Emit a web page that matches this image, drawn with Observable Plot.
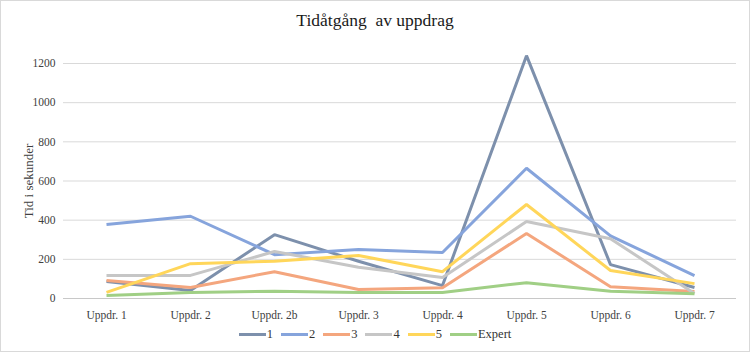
<!DOCTYPE html>
<html>
<head>
<meta charset="utf-8">
<script src="https://cdn.jsdelivr.net/npm/d3@7"></script>
<script src="https://cdn.jsdelivr.net/npm/@observablehq/plot@0.6"></script>
<style>
  html, body { margin: 0; padding: 0; background: #fff; }
  #chart { position: relative; width: 750px; height: 352px; outline: 1px solid #d9d9d9; outline-offset: -1px; font-family: "Liberation Serif", "Times New Roman", serif; overflow: hidden; }
  #title { height: 35px; padding-top: 10px; line-height: 20px; box-sizing: content-box; text-align: center; font-size: 17.5px; color: #1a1a1a; }
  #legend { display: flex; justify-content: center; align-items: center; height: 14px; font-size: 12.5px; color: #333; margin-top: 0px; }
  .item { display: flex; align-items: center; margin: 0 4px; }
  .sw { display: inline-block; width: 27px; height: 3px; margin-right: 1px; }
  svg { display: block; }
  svg text { font-family: "Liberation Serif", "Times New Roman", serif; }
</style>
</head>
<body>
<div id="chart">
  <div id="title">Tidåtgång&nbsp; av uppdrag</div>
  <div id="plot"></div>
  <div id="legend"></div>
</div>
<script>
const categories = ["Uppdr. 1", "Uppdr. 2", "Uppdr. 2b", "Uppdr. 3", "Uppdr. 4", "Uppdr. 5", "Uppdr. 6", "Uppdr. 7"];
const seriesNames = ["1", "2", "3", "4", "5", "Expert"];
const s1 = [87, 41, 326, 190, 66, 1240, 173, 56];
const s2 = [378, 420, 224, 250, 235, 665, 320, 117];
const s3 = [92, 56, 137, 46, 55, 332, 60, 36];
const s4 = [118, 118, 240, 160, 107, 393, 305, 26];
const s5 = [31, 178, 190, 220, 137, 480, 143, 76];
const sExpert = [15, 31, 37, 31, 31, 81, 37, 24];
const yTicks = [0, 200, 400, 600, 800, 1000, 1200];
const colors = ["#7D90AC", "#86A4DC", "#F4A67E", "#C6C6C6", "#FFD65A", "#A0CF85"];

const allSeries = [s1, s2, s3, s4, s5, sExpert];
const rows = [];
allSeries.forEach((vals, i) => vals.forEach((v, j) => rows.push({series: seriesNames[i], cat: categories[j], value: v})));

const plot = Plot.plot({
  width: 750,
  height: 282,
  marginTop: 18,
  marginBottom: 29,
  marginLeft: 63,
  marginRight: 14,
  style: {fontFamily: "'Liberation Serif', 'Times New Roman', serif", fontSize: "11px", color: "#404040", background: "transparent"},
  x: {type: "point", domain: categories, padding: 0.5, label: null},
  y: {domain: [0, 1200], ticks: yTicks, label: null},
  color: {domain: seriesNames, range: colors},
  marks: [
    Plot.gridY(yTicks.filter(d => d > 0), {stroke: "#d9d9d9", strokeOpacity: 1, strokeWidth: 1}),
    Plot.ruleY([0], {stroke: "#c8c8c8", strokeWidth: 1}),
    Plot.axisY({ticks: yTicks, tickFormat: d => String(d), tickSize: 0, tickPadding: 8, fontSize: 11.5, label: "Tid i sekunder", labelAnchor: "center", labelArrow: "none", labelOffset: 40}),
    Plot.axisX({tickSize: 0, tickPadding: 12, fontSize: 11.5}),
    Plot.line(rows, {x: "cat", y: "value", z: "series", stroke: "series", strokeWidth: 3, strokeLinejoin: "miter", strokeLinecap: "butt"})
  ]
});
document.getElementById("plot").appendChild(plot);
plot.querySelectorAll("text").forEach(t => { if (t.textContent === "Tid i sekunder") t.style.fontSize = "13px"; });

const legend = document.getElementById("legend");
seriesNames.forEach((n, i) => {
  const it = document.createElement("div");
  it.className = "item";
  const sw = document.createElement("span");
  sw.className = "sw";
  sw.style.background = colors[i];
  const lb = document.createElement("span");
  lb.textContent = n;
  it.appendChild(sw); it.appendChild(lb);
  legend.appendChild(it);
});
</script>
</body>
</html>
